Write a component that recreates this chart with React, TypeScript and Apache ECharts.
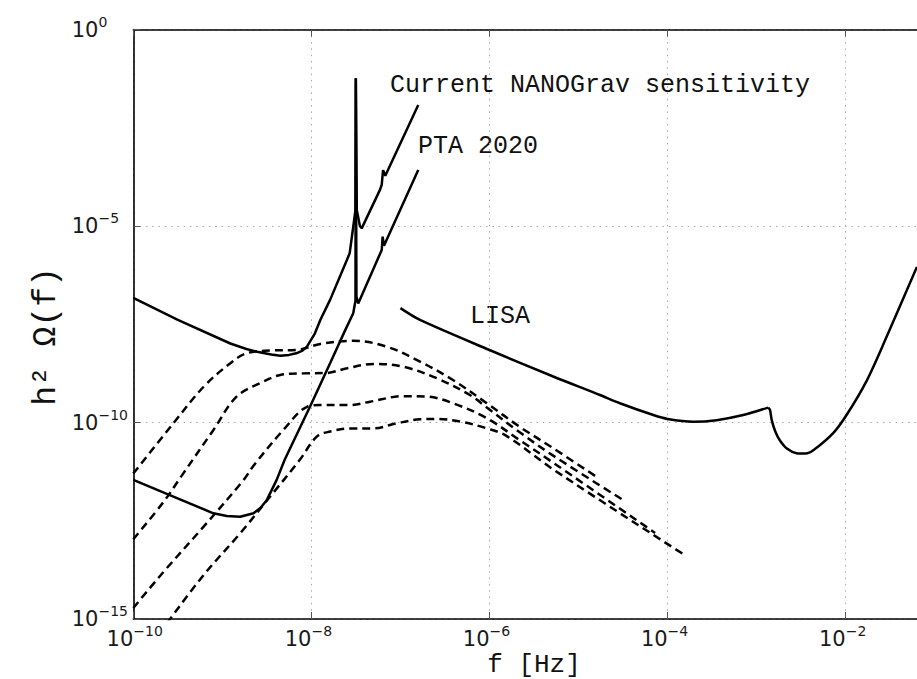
import { useEffect, useRef } from 'react';
import * as echarts from 'echarts';

// Axis ranges and tick steps, as powers of ten
const xExtentExp = [-10, -1];
const yExtentExp = [-15, 0];
const xTickStepExp = 2;
const yTickStepExp = 5;
const xLastLabelExp = -2;

// Curves: [log10 f (Hz), log10 h^2 Omega]
const nanogravCurrent: [number, number][] = [
  [-10, -6.83], [-9.5, -7.39], [-8.91, -7.99], [-8.73, -8.13], [-8.61, -8.2], [-8.45, -8.27],
  [-8.35, -8.3], [-8.25, -8.28], [-8.17, -8.24], [-8.1, -8.17], [-8.05, -8.07], [-7.96, -7.73],
  [-7.9, -7.39], [-7.79, -6.88], [-7.6, -5.86], [-7.57, -5.69], [-7.53, -5.02], [-7.505, -4.6],
  [-7.501, -1.24], [-7.499, -1.24], [-7.49, -4.6], [-7.455, -5.0], [-7.435, -5.06], [-7.23, -4.08],
  [-7.21, -3.95], [-7.195, -3.58], [-7.17, -3.72], [-6.8, -1.92],
];

const pta2020: [number, number][] = [
  [-10, -11.46], [-9.59, -11.85], [-9.1, -12.31], [-8.95, -12.38], [-8.8, -12.4], [-8.65, -12.31],
  [-8.57, -12.17], [-8.5, -11.97], [-8.39, -11.46], [-8.3, -10.95], [-8.016, -9.6], [-7.79, -8.49],
  [-7.62, -7.65], [-7.53, -7.22], [-7.505, -6.9], [-7.501, -1.24], [-7.499, -1.24], [-7.494, -6.8],
  [-7.474, -6.97], [-7.21, -5.61], [-7.2, -5.27], [-7.185, -5.5], [-6.8, -3.575],
];

const lisaLow: [number, number][] = [
  [-7.0, -7.09], [-6.78, -7.39], [-6.0, -8.155], [-5.284, -8.83], [-4.76, -9.3], [-4.535, -9.51],
  [-4.16, -9.81], [-4.0, -9.91], [-3.71, -9.98], [-3.45, -9.94], [-3.15, -9.81], [-2.87, -9.62],
];

const lisaHigh: [number, number][] = [
  [-2.87, -9.62], [-2.85, -9.68], [-2.83, -9.94], [-2.79, -10.23], [-2.74, -10.45], [-2.66, -10.66],
  [-2.55, -10.78], [-2.45, -10.79], [-2.36, -10.7], [-2.14, -10.27], [-1.99, -9.81], [-1.76, -8.92],
  [-1.54, -7.82], [-1.2, -6.04],
];

const spectrumA: [number, number][] = [
  [-10, -11.3], [-9.55, -10.02], [-9.21, -9.09], [-8.91, -8.49], [-8.73, -8.24], [-8.465, -8.17],
  [-8.165, -8.155], [-7.9, -8.0], [-7.53, -7.92], [-7.155, -8.07], [-6.78, -8.45], [-6.41, -8.92],
  [-6.03, -9.51], [-5.66, -10.11], [-5.28, -10.66], [-4.78, -11.41],
];

const spectrumB: [number, number][] = [
  [-10, -12.97], [-9.66, -12.02], [-9.44, -11.3], [-9.1, -10.19], [-8.84, -9.34], [-8.54, -8.96],
  [-8.35, -8.79], [-8.09, -8.75], [-7.83, -8.74], [-7.6, -8.62], [-7.3, -8.51], [-6.97, -8.58],
  [-6.59, -8.875], [-6.22, -9.3], [-6.03, -9.62], [-5.66, -10.25], [-5.28, -10.85], [-4.5, -11.97],
];

const spectrumC: [number, number][] = [
  [-10, -14.72], [-9.66, -13.8], [-9.21, -12.65], [-8.76, -11.46], [-8.65, -11.1], [-8.315, -10.19],
  [-8.05, -9.6], [-7.9, -9.555], [-7.565, -9.555], [-7.34, -9.47], [-6.97, -9.33], [-6.705, -9.34],
  [-6.41, -9.51], [-6.03, -9.89], [-5.66, -10.45], [-5.28, -11.03], [-4.14, -12.81],
];

const spectrumD: [number, number][] = [
  [-9.62, -15.1], [-9.21, -13.88], [-8.8, -12.82], [-8.465, -11.89], [-8.13, -10.95], [-7.94, -10.36],
  [-7.79, -10.23], [-7.57, -10.15], [-7.305, -10.15], [-7.04, -10.02], [-6.78, -9.92], [-6.59, -9.91],
  [-6.32, -9.98], [-6.03, -10.15], [-5.81, -10.34], [-5.28, -11.2], [-3.81, -13.37],
];

const curveLabels = ['Current NANOGrav sensitivity', 'PTA 2020', 'LISA'];
const xAxisTitle = 'f [Hz]';
const yAxisTitle = 'h\u00b2 \u03a9(f)';

const MONO = "'Courier New', 'Liberation Mono', monospace";
const SANS = "'DejaVu Sans', sans-serif";

const toPts = (arr: [number, number][]) => arr.map(([a, b]) => [Math.pow(10, a), Math.pow(10, b)]);
const toExp = (v: number) => Math.round(Math.log10(v));
const supText = (e: number) => (e < 0 ? '\u2212' + String(-e) : String(e));

const rich = {
  b: { fontSize: 21, fontFamily: SANS, color: '#1a1a1a', align: 'left' },
  s: { fontSize: 14, fontFamily: SANS, color: '#1a1a1a', align: 'left', padding: [0, 0, 16, 0] },
};

export default function App() {
  const ref = useRef<HTMLDivElement>(null);
  useEffect(() => {
    document.body.style.margin = '0';
    if (!ref.current) return;
    const chart = echarts.init(ref.current, undefined, { renderer: 'svg' });

    const solid = (data: [number, number][], smooth: number | boolean) => ({
      type: 'line', data: toPts(data), showSymbol: false, symbol: 'none', smooth,
      lineStyle: { color: '#000', width: 2.5 }, clip: true, silent: true,
    });
    const dashed = (data: [number, number][]) => ({
      type: 'line', data: toPts(data), showSymbol: false, symbol: 'none', smooth: 0.35,
      lineStyle: { color: '#000', width: 2.5, type: [8, 5] }, clip: true, silent: true,
    });

    const axisCommon = {
      type: 'log',
      logBase: 10,
      axisLine: { show: true, lineStyle: { color: '#000', width: 1.6 } },
      axisTick: { show: true, inside: true, length: 7, lineStyle: { color: '#555', width: 1 } },
      minorTick: { show: false },
    };

    chart.setOption({
      animation: false,
      backgroundColor: '#fff',
      grid: { left: 133.3, top: 29.5, bottom: 60, right: 0.3, containLabel: false, show: false },
      xAxis: [
        {
          ...axisCommon,
          position: 'bottom',
          min: Math.pow(10, xExtentExp[0]),
          max: Math.pow(10, xExtentExp[1]),
          interval: xTickStepExp,
          splitLine: { show: true, lineStyle: { color: '#a8a8a8', width: 1, type: [1.5, 4.8] } },
          axisLabel: {
            show: true,
            showMinLabel: true,
            showMaxLabel: false,
            align: 'left',
            margin: 5,
            padding: [0, 0, 0, -26.7],
            formatter: (v: number) => {
              const e = toExp(v);
              if ((e - xExtentExp[0]) % xTickStepExp !== 0 || e > xLastLabelExp) return '';
              return `{b|10}{s|${supText(e)}}`;
            },
            rich,
          },
        },
        {
          ...axisCommon,
          position: 'top',
          min: Math.pow(10, xExtentExp[0]),
          max: Math.pow(10, xExtentExp[1]),
          interval: xTickStepExp,
          splitLine: { show: false },
          axisLabel: { show: false },
        },
      ],
      yAxis: {
        ...axisCommon,
        min: Math.pow(10, yExtentExp[0]),
        max: Math.pow(10, yExtentExp[1]),
        interval: yTickStepExp,
        splitLine: { show: true, lineStyle: { color: '#a8a8a8', width: 1, type: [1.5, 4.8] } },
        axisLabel: {
          show: true,
          showMinLabel: true,
          showMaxLabel: true,
          align: 'left',
          margin: 61.6,
          formatter: (v: number) => `{b|10}{s|${supText(toExp(v))}}`,
          rich,
        },
      },
      series: [
        solid(nanogravCurrent, false),
        solid(pta2020, false),
        solid(lisaLow, 0.3),
        solid(lisaHigh, 0.3),
        dashed(spectrumA),
        dashed(spectrumB),
        dashed(spectrumC),
        dashed(spectrumD),
      ],
      graphic: [
        { type: 'text', x: 390, y: 85.3, silent: true,
          style: { text: curveLabels[0], fontSize: 25, fontFamily: MONO, fill: '#111', align: 'left', verticalAlign: 'middle' } },
        { type: 'text', x: 418, y: 146.6, silent: true,
          style: { text: curveLabels[1], fontSize: 25, fontFamily: MONO, fill: '#111', align: 'left', verticalAlign: 'middle' } },
        { type: 'text', x: 470, y: 316.3, silent: true,
          style: { text: curveLabels[2], fontSize: 25, fontFamily: MONO, fill: '#111', align: 'left', verticalAlign: 'middle' } },
        { type: 'text', x: 534, y: 665, silent: true,
          style: { text: xAxisTitle, fontSize: 26, fontFamily: MONO, fill: '#111', align: 'center', verticalAlign: 'middle' } },
        { type: 'text', x: 46.2, y: 336.5, rotation: Math.PI / 2, silent: true,
          style: { text: yAxisTitle, fontSize: 33, fontFamily: MONO, fill: '#111', align: 'center', verticalAlign: 'middle' } },
      ],
    });
    return () => chart.dispose();
  }, []);

  return (
    <div style={{ position: 'fixed', left: 0, top: 0, width: 917, height: 679, overflow: 'hidden', background: '#fff' }}>
      <div ref={ref} style={{ position: 'absolute', left: 0, top: 0, width: 935, height: 679 }} />
    </div>
  );
}
